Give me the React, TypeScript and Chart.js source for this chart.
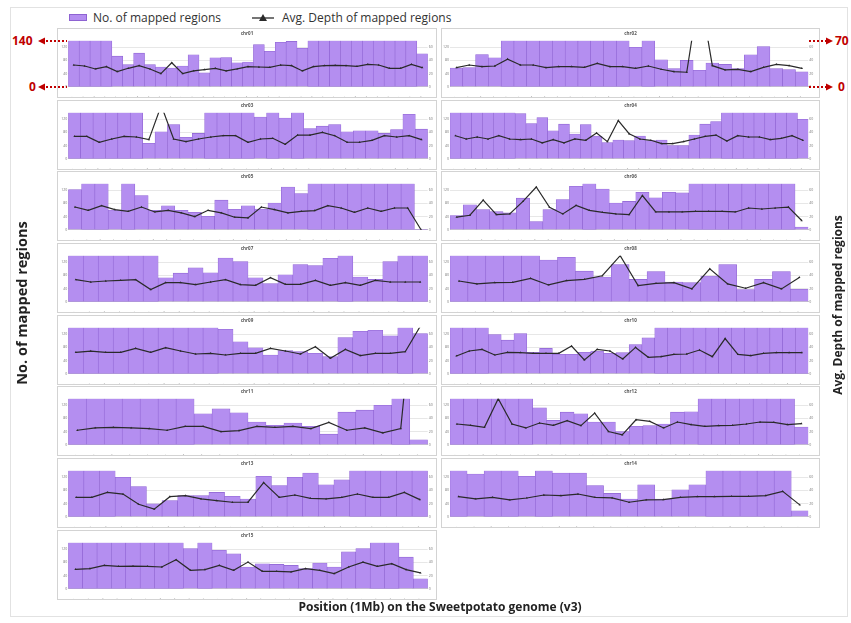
import React, { useEffect, useRef } from "react";
import { Chart, registerables } from "chart.js";
Chart.register(...registerables);

const FONT = "'Open Sans', 'Noto Sans', sans-serif";
const BAR_FILL = "#b48ef0";
const BAR_EDGE = "#8e63d2";
const LINE_COLOR = "#2a2a2a";
const RED = "#c00000";

// ---- data (No. of mapped regions: left axis 0-140; Avg. depth: right axis 0-70) ----
const chromosomes = ["chr01","chr02","chr03","chr04","chr05","chr06","chr07","chr08","chr09","chr10","chr11","chr12","chr13","chr14","chr15"];

const chr01Regions = [140,140,140,140,93,67,102,67,60,57,63,97,42,88,89,73,75,128,108,135,138,117,140,140,140,140,140,140,140,140,140,140,100];
const chr01Depth = [33,31.5,27,30.5,23,28,32,27,20,36.5,20,24,26,28,24,27,30.5,30,29.5,33,32,24,30.5,32,32.5,32,31,34,33,28,28,34,29];

const chr02Regions = [57,58,98,88,140,140,140,140,140,140,140,140,140,140,120,140,82,55,80,50,72,68,55,97,122,55,52,45];
const chr02Depth = [29,33,30.5,31.5,42,33,33,29,30.5,30.5,29.5,35.5,30.5,30.5,28,31.5,26.5,23,22,147,32,25.5,26.5,23,29.5,34,32,28];

const chr03Regions = [140,140,140,140,140,140,47,82,104,65,77,140,140,140,140,127,140,124,140,92,99,104,82,85,85,77,89,135,90];
const chr03Depth = [34,34,25,30,34,33,29,81,30,26,30,33,35,35,25,30,31,22,36,36,40,35,25,25,28,35,33,35,29];

const chr04Regions = [140,140,140,140,140,140,137,107,125,85,105,75,104,69,49,57,55,69,55,57,40,40,72,105,113,140,140,140,140,140,140,140,120];
const chr04Depth = [35,30,33,30,35,30,29,30,24,29,24,30,28,39,26,58,38,30,28,23,23,26,30,34,36,27,35,33,33,29,31,35,28];

const chr05Regions = [122,140,140,60,140,104,59,73,59,53,41,90,62,73,63,81,130,110,140,140,140,140,140,140,140,140,1];
const chr05Depth = [34.5,29.5,36.5,30.5,28,34.5,27,29.5,25.5,20,29.5,25.5,19,18,34.5,30.5,25.5,28,29,36.5,33,26.5,33,28,33,33,0];

const chr06Regions = [43,76,61,55,51,96,25,61,92,132,140,124,81,86,114,97,114,112,140,140,140,140,140,140,140,140,8];
const chr06Depth = [19,22,45,23,24,43,65,34,24,37,29.5,26.5,24,23,52,27,27,27,28,28,28,27,33,31.5,33,34.5,14];

const chr07Regions = [140,140,140,140,140,140,73,87,103,88,133,122,73,55,82,113,110,132,140,75,68,122,140,140];
const chr07Depth = [33.5,30,31.5,32.5,33.5,18.5,29,29,26,30,33.5,26,25,36.5,26.5,26.5,32.5,25,29,25,32.5,30,30,30];

const chr08Regions = [140,140,140,140,140,127,135,93,75,113,68,92,60,58,78,113,37,68,92,38];
const chr08Depth = [31.5,27,29,29.5,35.5,25.5,32,34,39.5,70,24.5,28,29,19.5,50,27,20.5,29,19.5,37];

const chr09Regions = [140,140,140,140,140,140,140,140,140,140,135,97,79,57,70,67,62,52,110,129,132,115,140,122];
const chr09Depth = [32.5,34.5,32.5,32.5,38.5,32.5,39.5,34.5,30,31,28.5,31,31,38.5,34.5,30,41,23.5,37,27.5,31,31,33.5,72];

const chr10Regions = [140,140,140,119,102,122,65,77,59,59,65,69,62,64,89,109,140,140,140,140,140,140,140,140,140,140,140,140];
const chr10Depth = [27,34.5,37,28.5,32.5,32,31,31,31,42,21,37,34.5,22.5,40,25,26,29.5,30,36,26,53.5,29.5,27.5,31,32,32,32];

const chr11Regions = [140,140,140,140,140,140,140,94,109,97,69,59,66,56,32,99,105,120,140,15];
const chr11Depth = [22,25.5,26.5,25.5,24.5,22,28,28,20,21.5,28,26.5,28,24.5,34,22,25.5,18,24.5,300];

const chr12Regions = [140,140,140,140,140,140,112,74,99,94,69,69,40,56,58,63,99,100,140,140,140,140,140,140,140,54];
const chr12Depth = [31.5,29.5,26.5,70,31.5,25.5,33,29.5,36.5,29,48,20,15,38,35.5,25.5,34.5,30.5,28,29,29.5,31.5,34.5,34,30.5,32];

const chr13Regions = [140,140,140,120,92,39,49,64,64,74,62,54,123,95,120,133,97,112,140,140,140,140,140];
const chr13Depth = [29.5,29.5,37,34.5,19,11.5,30.5,32,27,24.5,22,22,52,29.5,33,28,27,29.5,34.5,29.5,29.5,37,26];

const chr14Regions = [140,130,140,140,123,140,133,133,95,71,54,97,54,82,97,140,140,140,140,140,18];
const chr14Depth = [30.5,27,29.5,25.5,28.5,33,32,34.5,29.5,28.5,22,25.5,26,29.5,30.5,30.5,31,31,32,38.5,18];

const chr15Regions = [140,140,140,140,140,140,140,140,122,140,117,106,66,76,74,71,61,78,66,112,122,140,140,96,30];
const chr15Depth = [29.5,30.5,35.5,34,34.5,34,33,44,28,29,35.5,28,40.5,26.5,26.5,25.5,30.5,28,23,33,40.5,34,38,29,24];

const regionSeries = [chr01Regions,chr02Regions,chr03Regions,chr04Regions,chr05Regions,chr06Regions,chr07Regions,chr08Regions,chr09Regions,chr10Regions,chr11Regions,chr12Regions,chr13Regions,chr14Regions,chr15Regions];
const depthSeries = [chr01Depth,chr02Depth,chr03Depth,chr04Depth,chr05Depth,chr06Depth,chr07Depth,chr08Depth,chr09Depth,chr10Depth,chr11Depth,chr12Depth,chr13Depth,chr14Depth,chr15Depth];

const regionTicks = [0, 20, 40, 60, 80, 100, 120, 140];
const depthTicks = [0, 10, 20, 30, 40, 50, 60, 70];

// ---- layout ----
const ROW_TOPS = [28, 100, 171, 243, 315, 386, 458, 530];
const PANEL_H = 70;
const COLS = [
  { left: 57, width: 380, yw: 9.3, y1w: 7.3 },
  { left: 441, width: 379, yw: 7, y1w: 9.7 },
];

const framePlugin = {
  id: "panelFrame",
  beforeDraw(chart: any) {
    const { ctx, width, height } = chart;
    ctx.save();
    ctx.fillStyle = "#ffffff";
    ctx.fillRect(0, 0, width, height);
    ctx.strokeStyle = "#d3d3d3";
    ctx.lineWidth = 1;
    ctx.strokeRect(0.5, 0.5, width - 1, height - 1);
    ctx.restore();
  },
};

function Panel({ index }: { index: number }) {
  const ref = useRef<HTMLCanvasElement | null>(null);
  const col = index % 2;
  const row = Math.floor(index / 2);
  const geo = COLS[col];
  useEffect(() => {
    const regions = regionSeries[index];
    const depth = depthSeries[index];
    const labels = regions.map((_, i) => String(i + 1));
    const tickFont = { size: 3.5, family: FONT };
    const chart = new Chart(ref.current as HTMLCanvasElement, {
      type: "bar",
      data: {
        labels,
        datasets: [
          {
            type: "line",
            label: "Avg. Depth of mapped regions",
            data: depth,
            yAxisID: "y1",
            borderColor: LINE_COLOR,
            borderWidth: 1.2,
            pointStyle: "triangle",
            pointRadius: 1.3,
            pointBackgroundColor: LINE_COLOR,
            pointBorderWidth: 0,
            tension: 0,
            order: 0,
          } as any,
          {
            type: "bar",
            label: "No. of mapped regions",
            data: regions,
            yAxisID: "y",
            backgroundColor: BAR_FILL,
            borderColor: BAR_EDGE,
            borderWidth: 0.6,
            barPercentage: 1,
            categoryPercentage: 1,
            order: 1,
          } as any,
        ],
      },
      options: {
        responsive: false,
        animation: false,
        events: [],
        layout: { padding: { left: 2, right: 2, top: 0, bottom: 1 } },
        plugins: {
          legend: { display: false },
          tooltip: { enabled: false },
          title: {
            display: true,
            text: chromosomes[index],
            color: "#555",
            font: { size: 4.5, weight: "bold", family: FONT },
            padding: { top: 3, bottom: 4.3 },
          },
        },
        scales: {
          x: {
            grid: { display: false },
            border: { color: "#c8c8c8" },
            ticks: { font: { size: 4, family: FONT }, color: "#777", autoSkip: false, maxRotation: 45, minRotation: 45, padding: 1 },
            afterFit: (s: any) => { s.height = 10.3; },
          },
          y: {
            position: "left",
            min: regionTicks[0],
            max: regionTicks[regionTicks.length - 1],
            afterBuildTicks: (s: any) => { s.ticks = regionTicks.map((v) => ({ value: v })); },
            ticks: { font: tickFont, color: "#777", padding: 1 },
            grid: { color: "#d6d6d6", lineWidth: 0.6, drawTicks: false },
            border: { display: false },
            afterFit: (s: any) => { s.width = geo.yw; },
          },
          y1: {
            position: "right",
            min: depthTicks[0],
            max: depthTicks[depthTicks.length - 1],
            afterBuildTicks: (s: any) => { s.ticks = depthTicks.map((v) => ({ value: v })); },
            ticks: { font: tickFont, color: "#777", padding: 1 },
            grid: { drawOnChartArea: false, drawTicks: false },
            border: { display: false },
            afterFit: (s: any) => { s.width = geo.y1w; },
          },
        },
      } as any,
      plugins: [framePlugin],
    });
    return () => chart.destroy();
  }, [index]);
  return (
    <canvas
      ref={ref}
      width={geo.width}
      height={PANEL_H}
      style={{ position: "absolute", left: geo.left, top: ROW_TOPS[row], width: geo.width, height: PANEL_H }}
    />
  );
}

const boldText = (extra: React.CSSProperties): React.CSSProperties => ({
  position: "absolute",
  whiteSpace: "nowrap",
  fontWeight: 700,
  lineHeight: 1,
  ...extra,
});

export default function App() {
  return (
    <div style={{ position: "absolute", left: 0, top: 0, width: 851, height: 623, background: "#fff", fontFamily: FONT, overflow: "hidden" }}>
      <div style={{ position: "absolute", left: 10, top: 7, width: 838, height: 610, border: "1px solid #e2e2e2", boxSizing: "border-box" }} />

      {/* legend */}
      <div style={{ position: "absolute", left: 69, top: 14, width: 18, height: 7, background: BAR_FILL, border: `1px solid ${BAR_EDGE}`, boxSizing: "border-box" }} />
      <div style={{ position: "absolute", left: 93, top: 10, fontSize: 12, color: "#333", whiteSpace: "nowrap", lineHeight: "16px" }}>No. of mapped regions</div>
      <svg style={{ position: "absolute", left: 250, top: 10, overflow: "visible" }} width={26} height={16}>
        <line x1={2} y1={8} x2={24} y2={8} stroke={LINE_COLOR} strokeWidth={1.3} />
        <polygon points="13,4 17,11 9,11" fill={LINE_COLOR} />
      </svg>
      <div style={{ position: "absolute", left: 282, top: 10, fontSize: 12, color: "#333", whiteSpace: "nowrap", lineHeight: "16px" }}>Avg. Depth of mapped regions</div>

      {chromosomes.map((_, i) => (
        <Panel key={i} index={i} />
      ))}

      {/* red axis-range markers */}
      <div style={boldText({ left: 12, top: 35, fontSize: 12, color: RED })}>140</div>
      <div style={boldText({ left: 29, top: 81, fontSize: 12, color: RED })}>0</div>
      <div style={boldText({ left: 835, top: 35, fontSize: 12, color: RED })}>70</div>
      <div style={boldText({ left: 838, top: 81, fontSize: 12, color: RED })}>0</div>
      <svg style={{ position: "absolute", left: 0, top: 0, pointerEvents: "none" }} width={851} height={623}>
        <polygon points="38,41 45,37.5 45,44.5" fill={RED} />
        <line x1={46} y1={41} x2={67} y2={41} stroke={RED} strokeWidth={2} strokeDasharray="2,2" />
        <polygon points="38,87 45,83.5 45,90.5" fill={RED} />
        <line x1={46} y1={87} x2={67} y2={87} stroke={RED} strokeWidth={2} strokeDasharray="2,2" />
        <line x1={809} y1={41} x2={826} y2={41} stroke={RED} strokeWidth={2} strokeDasharray="2,2" />
        <polygon points="833,41 826,37.5 826,44.5" fill={RED} />
        <line x1={809} y1={87} x2={826} y2={87} stroke={RED} strokeWidth={2} strokeDasharray="2,2" />
        <polygon points="833,87 826,83.5 826,90.5" fill={RED} />
      </svg>

      {/* axis titles */}
      <div style={boldText({ left: 22, top: 303, fontSize: 14.5, color: "#222", transform: "translate(-50%, -50%) rotate(-90deg)" })}>No. of mapped regions</div>
      <div style={boldText({ left: 838, top: 305, fontSize: 12, color: "#222", transform: "translate(-50%, -50%) rotate(-90deg)" })}>Avg. Depth of mapped regions</div>
      <div style={boldText({ left: 440, top: 607, fontSize: 12, color: "#222", transform: "translate(-50%, -50%)" })}>Position (1Mb) on the Sweetpotato genome (v3)</div>
    </div>
  );
}
